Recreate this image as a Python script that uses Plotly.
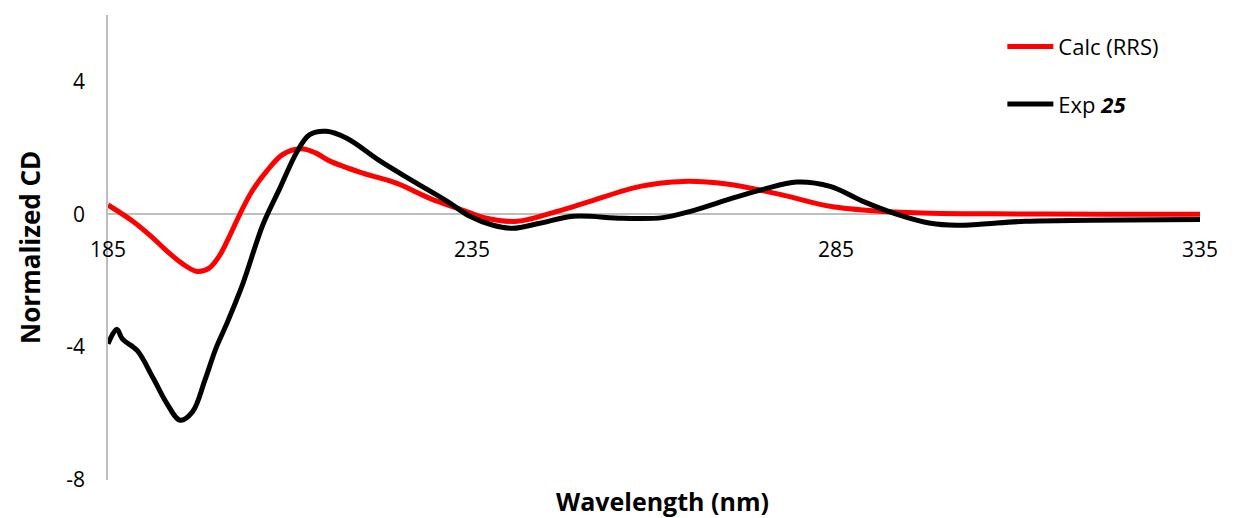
import plotly.graph_objects as go

# Calculated ECD (RRS)
calc_nm = [185, 188.4, 191.0, 193.1, 195.3, 197.2, 198.9, 200.3, 201.6, 203.1, 204.8,
           206.8, 209.0, 211.5, 213.5, 215.5, 220.0, 224.7, 229.2, 233.4, 237.0, 241.2,
           246.7, 251.2, 258.1, 264.0, 270.0, 277.3, 284.2, 291.0, 298.0, 310.0, 322.0, 335.0]
calc_cd = [0.28, -0.21, -0.68, -1.11, -1.5, -1.72, -1.62, -1.25, -0.7, 0.0, 0.7,
           1.3, 1.8, 1.97, 1.85, 1.6, 1.24, 0.93, 0.48, 0.15, -0.12, -0.21,
           0.09, 0.39, 0.84, 0.99, 0.91, 0.6, 0.24, 0.09, 0.03, 0.01, 0.0, 0.0]

# Experimental ECD (compound 25)
exp_nm = [185, 186.2, 187.0, 189.0, 191.2, 193.1, 194.9, 196.6, 198.3, 199.8, 201.3, 203.5,
          206.3, 208.6, 211.0, 212.7, 215.0, 217.8, 222.4, 226.9, 231.6, 234.7, 237.9,
          240.6, 244.3, 248.9, 255.7, 261.2, 265.0, 271.0, 275.0, 279.6, 284.2, 288.7,
          293.4, 298.0, 301.6, 304.8, 311.0, 320.0, 335.0]
exp_cd = [-3.9, -3.46, -3.76, -4.1, -4.93, -5.7, -6.2, -5.95, -5.0, -4.05, -3.3, -2.1,
          -0.3, 0.78, 1.9, 2.4, 2.5, 2.29, 1.6, 1.0, 0.39, -0.06, -0.33,
          -0.42, -0.27, -0.06, -0.12, -0.1, 0.09, 0.5, 0.75, 0.97, 0.84, 0.39,
          0.0, -0.27, -0.33, -0.3, -0.21, -0.18, -0.16]

x_ticks = [185, 235, 285, 335]
y_ticks = [-8, -4, 0, 4]
y_ticktext = ["-8", "-4", "0", "4"]

FONT = "Open Sans"
GRAY = "#BEBEBE"

fig = go.Figure()
fig.add_trace(go.Scatter(x=calc_nm, y=calc_cd, mode="lines", name="Calc (RRS)",
                         legendgroup="a",
                         line=dict(color="#FF0000", width=5, shape="spline", smoothing=1.0)))
fig.add_trace(go.Scatter(x=exp_nm, y=exp_cd, mode="lines", name="Exp <b><i>25</i></b>",
                         legendgroup="b",
                         line=dict(color="#000000", width=5, shape="spline", smoothing=1.0)))

fig.update_layout(
    width=1220, height=510,
    margin=dict(l=100, r=28, t=7, b=38),
    paper_bgcolor="white", plot_bgcolor="white",
    font=dict(family=FONT, size=21, color="#000000"),
    showlegend=True,
    legend=dict(x=0.819, y=0.977, xanchor="left", yanchor="top",
                traceorder="grouped", tracegroupgap=26,
                itemwidth=46, font=dict(family=FONT, size=22),
                bgcolor="rgba(0,0,0,0)"),
    xaxis=dict(range=[185, 335], tickvals=x_ticks, ticktext=[str(v) for v in x_ticks],
               showgrid=False, zeroline=False, showline=False, ticks="",
               anchor="free", position=8/14, ticklabelstandoff=21,
               tickfont=dict(family=FONT, size=21)),
    yaxis=dict(range=[-8, 6], tickvals=y_ticks, ticktext=y_ticktext, showgrid=False,
               zeroline=True, zerolinecolor=GRAY, zerolinewidth=1.5,
               showline=True, linecolor=GRAY, linewidth=1.5, ticks="",
               ticklabelstandoff=17, tickfont=dict(family=FONT, size=21)),
    annotations=[
        dict(text="<b>Wavelength (nm)</b>", xref="paper", yref="paper",
             x=0.508, y=-0.045, xanchor="center", yanchor="middle", showarrow=False,
             font=dict(family=FONT, size=25)),
        dict(text="<b>Normalized CD</b>", xref="paper", yref="paper",
             x=-0.072, y=0.5, xanchor="center", yanchor="middle", showarrow=False,
             textangle=-90, font=dict(family=FONT, size=26)),
    ],
)

fig.write_html("out.html")
